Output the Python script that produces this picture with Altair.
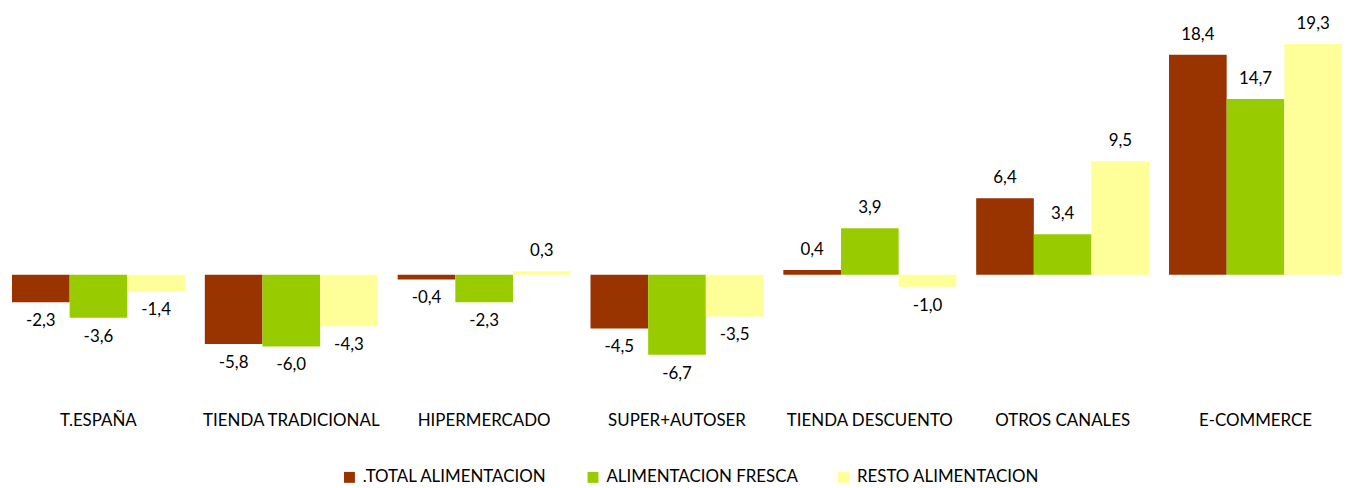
import altair as alt
import pandas as pd

categories = ["T.ESPAÑA", "TIENDA TRADICIONAL", "HIPERMERCADO", "SUPER+AUTOSER",
              "TIENDA DESCUENTO", "OTROS CANALES", "E-COMMERCE"]
series_names = [".TOTAL ALIMENTACION", "ALIMENTACION FRESCA", "RESTO ALIMENTACION"]
total_alimentacion = [-2.3, -5.8, -0.4, -4.5, 0.4, 6.4, 18.4]
alimentacion_fresca = [-3.6, -6.0, -2.3, -6.7, 3.9, 3.4, 14.7]
resto_alimentacion = [-1.4, -4.3, 0.3, -3.5, -1.0, 9.5, 19.3]
colors = ["#993300", "#99CC00", "#FFFF99"]

rows = []
for s, vals in zip(series_names, [total_alimentacion, alimentacion_fresca, resto_alimentacion]):
    for c, v in zip(categories, vals):
        rows.append({"cat": c, "serie": s, "value": v})
df = pd.DataFrame(rows)

FONT = "Lato"
FS = 17

base = alt.Chart(df).encode(
    x=alt.X("cat:N", sort=categories, title=None,
            scale=alt.Scale(paddingInner=0.103, paddingOuter=0.0),
            axis=alt.Axis(domain=False, ticks=False, labelAngle=0, labelPadding=14,
                          labelFontSize=FS, labelFont=FONT, labelColor="#000000",
                          labelLimit=300)),
    xOffset=alt.XOffset("serie:N", sort=series_names, scale=alt.Scale(paddingInner=0, paddingOuter=0)),
    y=alt.Y("value:Q", title=None,
            scale=alt.Scale(domain=[-10.4, 22.2], nice=False, zero=True),
            axis=None),
)

bars = base.mark_bar().encode(
    color=alt.Color("serie:N", sort=series_names, title=None,
                    scale=alt.Scale(domain=series_names, range=colors),
                    legend=alt.Legend(orient="none", direction="horizontal",
                                      legendX=331, legendY=462,
                                      symbolType="square", symbolSize=121,
                                      symbolStrokeWidth=0,
                                      labelFontSize=FS, labelFont=FONT,
                                      labelColor="#000000", columnPadding=37,
                                      labelOffset=5, labelLimit=400))
)

LBL = "replace(replace(format(datum.value, '.1f'), '.', ','), '\u2212', '-')"

labels_pos = base.transform_filter("datum.value >= 0").transform_calculate(
    lbl=LBL
).mark_text(baseline="bottom", dy=-11, fontSize=FS, font=FONT, color="#000000").encode(
    text="lbl:N")

labels_neg = base.transform_filter("datum.value < 0").transform_calculate(
    lbl=LBL
).mark_text(baseline="top", dy=11, fontSize=FS, font=FONT, color="#000000").encode(
    text="lbl:N")

chart = alt.layer(bars, labels_pos, labels_neg).properties(
    width=1338, height=392,
    padding={"left": 4, "top": 0, "right": 0, "bottom": 0}
).configure(background="#ffffff").configure_view(stroke=None, strokeWidth=0)

chart.save("out.html", embed_options={"renderer": "svg", "actions": False})
